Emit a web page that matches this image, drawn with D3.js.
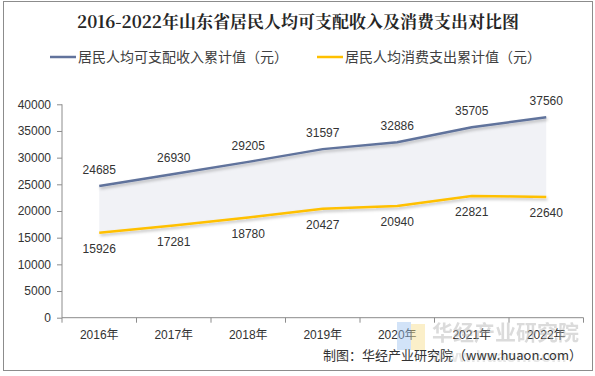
<!DOCTYPE html>
<html><head><meta charset="utf-8">
<script src="https://cdn.jsdelivr.net/npm/d3@7/dist/d3.min.js"></script>
<style>body{margin:0;background:#fff}svg{display:block}</style>
</head><body>
<svg id="c" width="595" height="376"></svg>
<script>
const categories = ["2016年","2017年","2018年","2019年","2020年","2021年","2022年"];
const income = [24685,26930,29205,31597,32886,35705,37560];
const consumption = [15926,17281,18780,20427,20940,22821,22640];
const yTicks = [0,5000,10000,15000,20000,25000,30000,35000,40000];
const seriesNames = ["居民人均可支配收入累计值（元）","居民人均消费支出累计值（元）"];
const colors = ["#61739c","#ffc000"];

const svg = d3.select("#c");
const font = "'Liberation Sans', Arial, 'Noto Sans CJK SC', sans-serif";

svg.append("rect").attr("x",3.5).attr("y",1.5).attr("width",589).attr("height",369)
  .attr("fill","#fff").attr("stroke","#8c8c8c").attr("stroke-width",1);

const defs = svg.append("defs");
const f = defs.append("filter").attr("id","sh").attr("x","-10%").attr("y","-50%").attr("width","120%").attr("height","300%");
f.append("feDropShadow").attr("dx",1).attr("dy",2).attr("stdDeviation",1.5).attr("flood-color","#000").attr("flood-opacity",0.25);

const x = d3.scaleBand().domain(categories).range([62,583.5]);
const y = d3.scaleLinear().domain([0,40000]).range([317.7,104.3]);
const cx = d => x(d) + x.bandwidth()/2;

// title
svg.append("text").attr("x",298).attr("y",28).attr("text-anchor","middle")
  .attr("font-family","'Noto Serif CJK SC','Noto Sans CJK SC',serif").attr("font-weight","bold")
  .attr("font-size",17).attr("fill","#262626").text("2016-2022年山东省居民人均可支配收入及消费支出对比图");

// legend
const leg = [[50,78],[317,345]];
seriesNames.forEach((n,i)=>{
  svg.append("line").attr("x1",leg[i][0]).attr("x2",leg[i][0]+26).attr("y1",57).attr("y2",57)
    .attr("stroke",colors[i]).attr("stroke-width",2.5);
  svg.append("text").attr("x",leg[i][1]).attr("y",62).attr("font-family","'Noto Sans CJK SC',sans-serif")
    .attr("font-size",14).attr("fill","#404040").text(n);
});

// area between
const rows = categories.map((c,i)=>({c, hi:income[i], lo:consumption[i]}));
svg.append("path").datum(rows)
  .attr("d", d3.area().x(d=>cx(d.c)).y0(d=>y(d.lo)).y1(d=>y(d.hi)))
  .attr("fill","#f1f2f6");

// axes
const yAxis = svg.append("g").attr("transform","translate(62,0)")
  .call(d3.axisLeft(y).tickValues(yTicks).tickSize(5).tickPadding(6).tickFormat(d3.format("d")));
const xAxis = svg.append("g").attr("transform","translate(0,317.7)")
  .call(d3.axisBottom(x).tickSize(5).tickPadding(8));
xAxis.selectAll(".tick line").attr("transform",`translate(${-x.bandwidth()/2},0)`);
xAxis.append("line").attr("x1",583.5).attr("x2",583.5).attr("y1",0).attr("y2",5).attr("stroke","#8c8c8c");
[yAxis,xAxis].forEach(g=>{
  g.select(".domain").attr("stroke","#8c8c8c");
  g.selectAll(".tick line").attr("stroke","#8c8c8c");
  g.selectAll("text").attr("font-family",font).attr("font-size",12).attr("fill","#333");
});
yAxis.select(".domain").attr("d","M0,104.3V317.7");
xAxis.select(".domain").attr("d","M62,0H583.5");

// lines
[income,consumption].forEach((vals,i)=>{
  svg.append("path").datum(vals)
    .attr("d", d3.line().x((d,j)=>cx(categories[j])).y(d=>y(d)))
    .attr("fill","none").attr("stroke",colors[i]).attr("stroke-width",2.5)
    .attr("filter","url(#sh)");
});

// labels
income.forEach((v,j)=>{
  svg.append("text").attr("x",cx(categories[j])).attr("y",y(v)-12).attr("text-anchor","middle")
    .attr("font-family",font).attr("font-size",12).attr("fill","#333").text(v);
});
consumption.forEach((v,j)=>{
  svg.append("text").attr("x",cx(categories[j])).attr("y",y(v)+20).attr("text-anchor","middle")
    .attr("font-family",font).attr("font-size",12).attr("fill","#333").text(v);
});

// watermark
const wm = svg.append("g").attr("opacity",0.45);
wm.append("rect").attr("x",397).attr("y",322).attr("width",14).attr("height",28).attr("fill","#9cc3f0");
wm.append("rect").attr("x",411).attr("y",324).attr("width",14).attr("height",26).attr("fill","#f7dc8a");
wm.append("text").attr("x",432).attr("y",340).attr("font-family","'Noto Sans CJK SC',sans-serif")
  .attr("font-weight","bold").attr("font-size",21).attr("fill","#b0b0b0").text("华经产业研究院");
wm.append("text").attr("x",432).attr("y",362).attr("font-family",font)
  .attr("font-weight","bold").attr("font-size",17).attr("fill","#c8c8c8").text("www.huaon.com");

// footer
svg.append("text").attr("x",582).attr("y",360).attr("text-anchor","end")
  .attr("font-family","'Noto Sans CJK SC',sans-serif").attr("font-size",13).attr("fill","#333")
  .text("制图：华经产业研究院（www.huaon.com）");
</script>
</body></html>
